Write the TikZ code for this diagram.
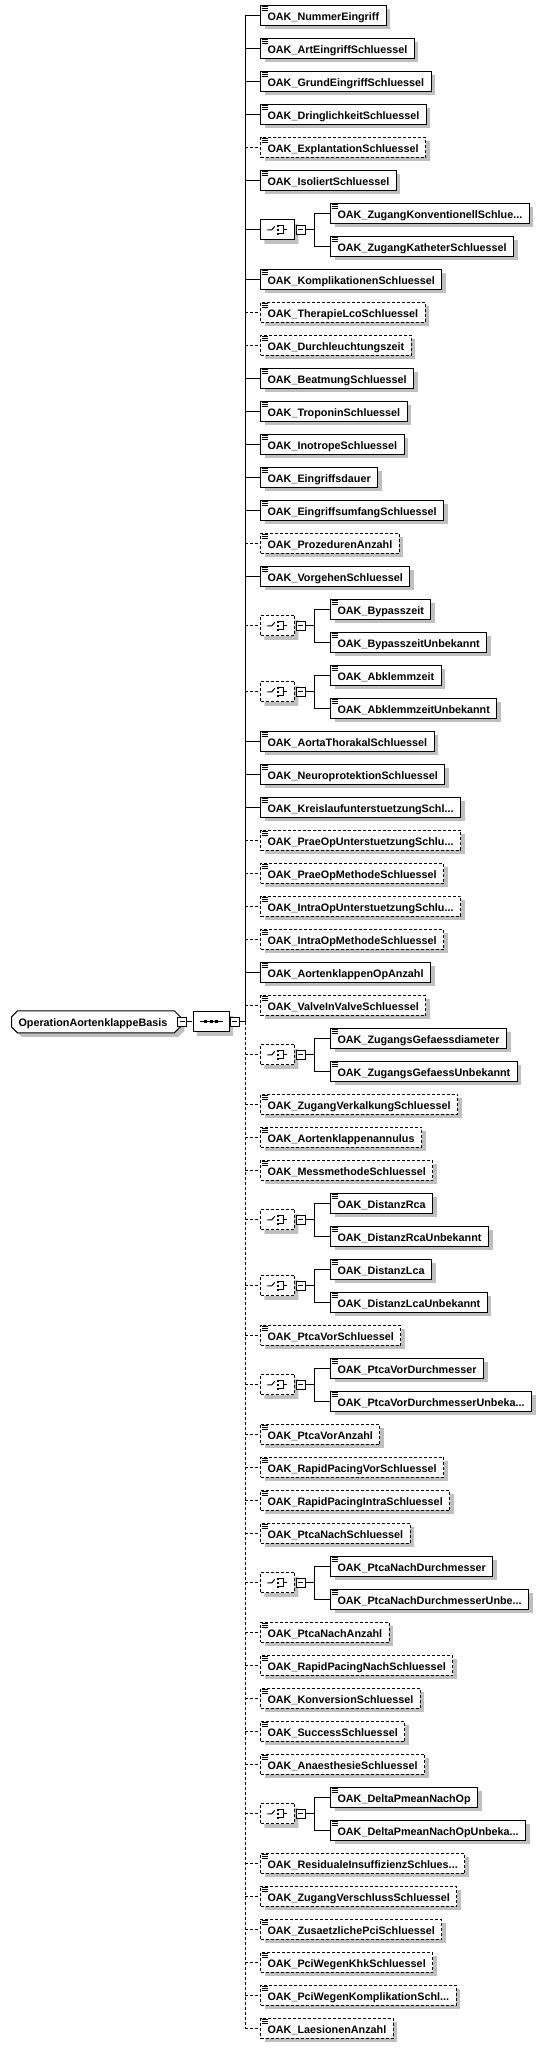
\documentclass[tikz,border=0pt]{standalone}
\usepackage{fontspec}
\setmainfont{Liberation Sans}
\usetikzlibrary{shapes.misc,shadows,positioning}

\definecolor{ombra}{gray}{0.75}
\newcommand\tronco{...}

\tikzset{
  ombreggiato/.style={drop shadow={shadow xshift=4pt,shadow yshift=-4pt,fill=ombra,opacity=1}},
  obbligatorio/.style={},
  opzionale/.style={dash pattern=on 3pt off 2pt},
  testo/.style={font=\bfseries\fontsize{10.8}{12}\selectfont,text height=9.5,text depth=0,inner ysep=0},
  elemento/.style={draw,fill=white,ombreggiato,testo,anchor=west,minimum height=20,inner xsep=7},
  ottagono/.style={chamfered rectangle,chamfered rectangle xsep=5pt,chamfered rectangle ysep=5pt,
    draw,fill=white,ombreggiato,minimum width=34,minimum height=20,inner sep=0},
  radice/.style={chamfered rectangle,chamfered rectangle xsep=3pt,chamfered rectangle ysep=3pt,
    draw,fill=white,ombreggiato,testo,anchor=west,minimum width=165,minimum height=22,inner xsep=4},
  meno/.style={draw,fill=white,solid,minimum size=9,inner sep=0},
  icona/.pic={\foreach \k in {2,4,6} \draw[solid,line width=.8pt] (1.5,\k) -- (7.5,\k);},
  simbolo sequenza/.pic={
    \draw[solid] (-11.5,0) -- (11.5,0);
    \foreach \d in {-5.5,0,5.5} \fill (\d-1.5,-1.5) rectangle ++(3,3);},
  simbolo scelta/.pic={
    \draw[solid] (-10,0) -- (-5.5,0) -- (-2.5,-3.5);
    \foreach \d in {-4,0,4} \fill (-0.8,\d-1.2) rectangle ++(2.4,2.4);
    \draw[solid] (1.6,-4) -- (6,-4) -- (6,4) -- (1.6,4);
    \draw[solid] (6,0) -- (9.5,0);}
}

\begin{document}
\begin{tikzpicture}[x=1pt,y=-1pt,line width=1pt]
  % Sfondo e dimensioni del disegno
  \fill[white] (0,0) rectangle (545,2048);
  \useasboundingbox (0,0) rectangle (545,2048);

  % Nodo radice con il suo pulsante
  \node[radice] (base) at (11,1021.8) {OperationAortenklappeBasis\hspace*{6pt}};
  \node[meno] (bm) at ([xshift=1.3pt]base.east) {\rule{5pt}{1pt}};

  % Compositore della sequenza
  \node[ottagono,minimum width=36] (seq) at (211,1021.8) {};
  \pic at (seq.center) {simbolo sequenza};
  \node[meno,right=0pt of seq] (sm) {\rule{5pt}{1pt}};
  \coordinate (tc) at (245,1021.8);
  \draw (bm) -- (seq);
  \draw (sm) -- (tc);

  % Elementi semplici della sequenza
  \foreach \slot/\nome/\tipo in {
      0/NummerEingriff/obbligatorio, 1/ArtEingriffSchluessel/obbligatorio,
      2/GrundEingriffSchluessel/obbligatorio, 3/DringlichkeitSchluessel/obbligatorio,
      4/ExplantationSchluessel/opzionale, 5/IsoliertSchluessel/obbligatorio,
      8/KomplikationenSchluessel/obbligatorio, 9/TherapieLcoSchluessel/opzionale,
      10/Durchleuchtungszeit/opzionale, 11/BeatmungSchluessel/obbligatorio,
      12/TroponinSchluessel/obbligatorio, 13/InotropeSchluessel/obbligatorio,
      14/Eingriffsdauer/obbligatorio, 15/EingriffsumfangSchluessel/obbligatorio,
      16/ProzedurenAnzahl/opzionale, 17/VorgehenSchluessel/obbligatorio,
      22/AortaThorakalSchluessel/obbligatorio, 23/NeuroprotektionSchluessel/obbligatorio,
      24/KreislaufunterstuetzungSchl\tronco/obbligatorio, 25/PraeOpUnterstuetzungSchlu\tronco/opzionale,
      26/PraeOpMethodeSchluessel/opzionale, 27/IntraOpUnterstuetzungSchlu\tronco/opzionale,
      28/IntraOpMethodeSchluessel/opzionale, 29/AortenklappenOpAnzahl/obbligatorio,
      30/ValveInValveSchluessel/opzionale, 33/ZugangVerkalkungSchluessel/opzionale,
      34/Aortenklappenannulus/opzionale, 35/MessmethodeSchluessel/opzionale,
      40/PtcaVorSchluessel/opzionale, 43/PtcaVorAnzahl/opzionale,
      44/RapidPacingVorSchluessel/opzionale, 45/RapidPacingIntraSchluessel/opzionale,
      46/PtcaNachSchluessel/opzionale, 49/PtcaNachAnzahl/opzionale,
      50/RapidPacingNachSchluessel/opzionale, 51/KonversionSchluessel/opzionale,
      52/SuccessSchluessel/opzionale, 53/AnaesthesieSchluessel/opzionale,
      56/ResidualeInsuffizienzSchlues\tronco/opzionale, 57/ZugangVerschlussSchluessel/opzionale,
      58/ZusaetzlichePciSchluessel/opzionale, 59/PciWegenKhkSchluessel/opzionale,
      60/PciWegenKomplikationSchl\tronco/opzionale, 61/LaesionenAnzahl/opzionale}{
    \pgfmathsetmacro\yy{15.3+33*\slot}
    \coordinate (t\slot) at (245,\yy);
    \node[elemento,\tipo] (e\slot) at (260,\yy) {OAK\_\nome};
    \pic at (e\slot.north west) {icona};
    \draw[\tipo] (t\slot) -- (e\slot);
  }

  % Gruppi di scelta con i due elementi
  \foreach \slot/\primo/\secondo/\tipo in {
      6/ZugangKonventionellSchlue\tronco/ZugangKatheterSchluessel/obbligatorio,
      18/Bypasszeit/BypasszeitUnbekannt/opzionale,
      20/Abklemmzeit/AbklemmzeitUnbekannt/opzionale,
      31/ZugangsGefaessdiameter/ZugangsGefaessUnbekannt/opzionale,
      36/DistanzRca/DistanzRcaUnbekannt/opzionale,
      38/DistanzLca/DistanzLcaUnbekannt/opzionale,
      41/PtcaVorDurchmesser/PtcaVorDurchmesserUnbeka\tronco/opzionale,
      47/PtcaNachDurchmesser/PtcaNachDurchmesserUnbe\tronco/opzionale,
      54/DeltaPmeanNachOp/DeltaPmeanNachOpUnbeka\tronco/opzionale}{
    \pgfmathsetmacro\ya{15.3+33*\slot}
    \pgfmathsetmacro\yb{\ya+33}
    \pgfmathsetmacro\yc{\ya+16.5}
    \coordinate (t\slot) at (245,\yc);
    \node[ottagono,\tipo] (c\slot) at (277.3,\yc) {};
    \pic at (c\slot.center) {simbolo scelta};
    \node[meno,right=0.7pt of c\slot] (cm\slot) {\rule{5pt}{1pt}};
    \coordinate (v\slot) at (314,\yc);
    \node[elemento] (sa\slot) at (330,\ya) {OAK\_\primo};
    \node[elemento] (sb\slot) at (330,\yb) {OAK\_\secondo};
    \pic at (sa\slot.north west) {icona};
    \pic at (sb\slot.north west) {icona};
    \draw[\tipo] (t\slot) -- (c\slot);
    \draw (cm\slot) -- (v\slot) |- (sa\slot);
    \draw (v\slot) |- (sb\slot);
  }

  % Linea verticale: piena sopra, tratteggiata sotto
  \draw (tc) -- (t0);
  \draw[opzionale] (tc) -- (t61);
\end{tikzpicture}
\end{document}
